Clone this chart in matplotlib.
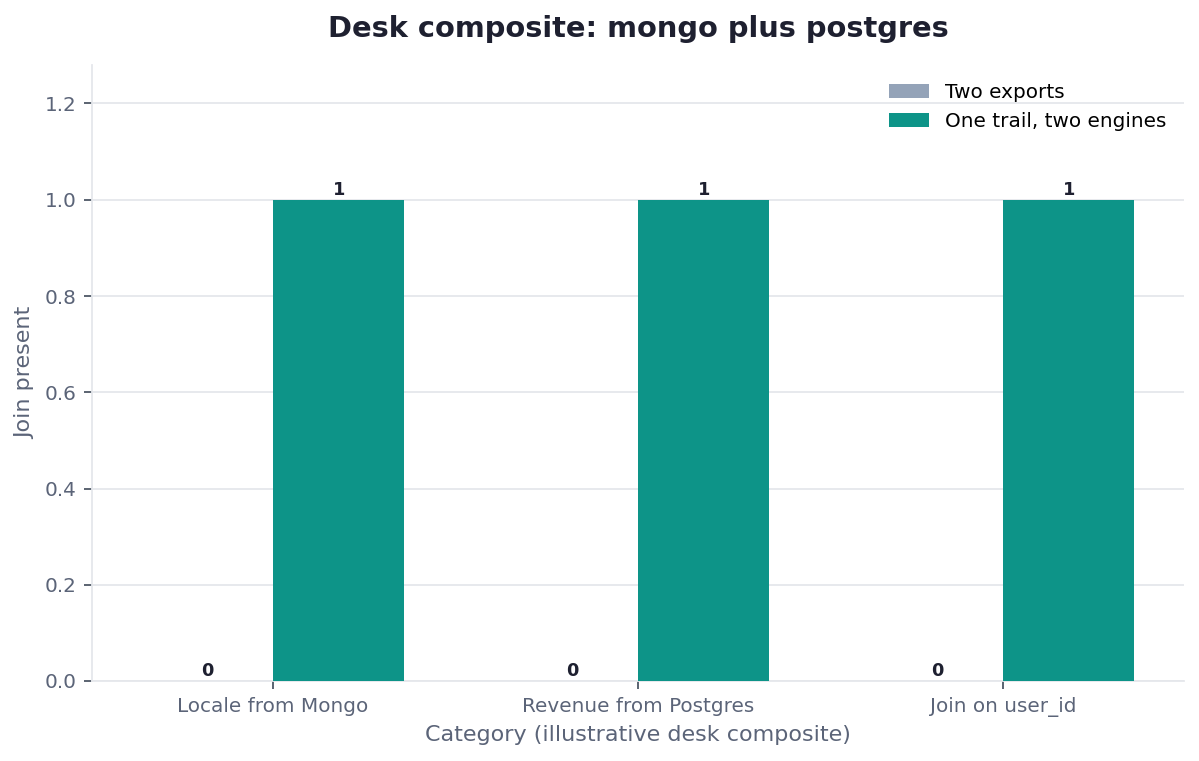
import matplotlib.pyplot as plt
import numpy as np

# chart data
categories = ['Locale from Mongo', 'Revenue from Postgres', 'Join on user_id']
series_names = ['Two exports', 'One trail, two engines']
two_exports = [0, 0, 0]
one_trail = [1, 1, 1]

gray = '#94a3b8'
teal = '#0d9488'
text_dark = '#1e2030'
text_muted = '#5b6478'
light = '#e5e7eb'

fig = plt.figure(figsize=(1199/160, 761/160), dpi=160)
ax = fig.add_axes([92/1199, 1-681/761, (1184-92)/1199, (681-65)/761])

x = np.arange(len(categories))
w = 0.36
b1 = ax.bar(x - w/2, two_exports, w, color=gray, label=series_names[0], zorder=3)
b2 = ax.bar(x + w/2, one_trail, w, color=teal, label=series_names[1], zorder=3)

# value labels on top of each bar
for bars in (b1, b2):
    for r in bars:
        ax.annotate(f'{r.get_height():.0f}', (r.get_x() + r.get_width()/2, r.get_height()),
                    xytext=(0, 0.5), textcoords='offset points', ha='center', va='bottom',
                    fontsize=8, fontweight='bold', color=text_dark)

ax.set_ylim(0, 1.28)
ax.set_xticks(x)
ax.set_xticklabels(categories)
ax.tick_params(axis='both', labelsize=9, colors='#4b5563', labelcolor=text_muted)
ax.grid(axis='y', color=light, linewidth=0.8, zorder=0)
for s in ('top', 'right'):
    ax.spines[s].set_visible(False)
for s in ('left', 'bottom'):
    ax.spines[s].set_color(light)

ax.set_xlabel('Category (illustrative desk composite)', fontsize=10, color=text_muted)
ax.set_ylabel('Join present', fontsize=10, color=text_muted)
ax.set_title('Desk composite: mongo plus postgres', fontsize=13, fontweight='bold',
             color=text_dark, pad=12.5)
ax.legend(loc='upper right', frameon=False, fontsize=9)

fig.savefig('out.png', dpi=160)
